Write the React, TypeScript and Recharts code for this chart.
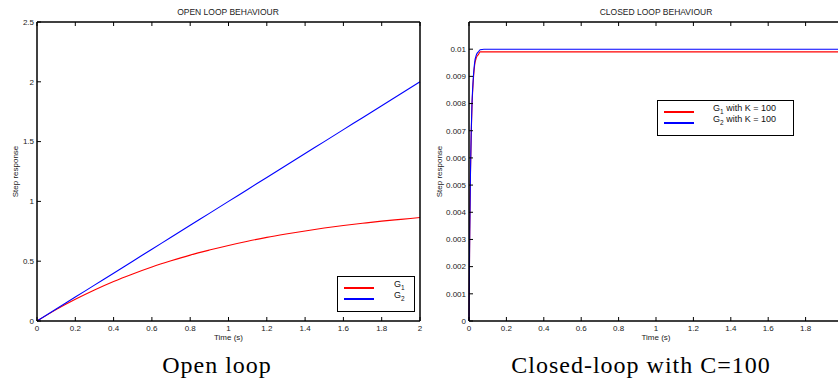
import React from "react";
import { LineChart, Line, XAxis, YAxis, Legend, Label } from "recharts";

// open loop step responses
const OPEN_T = [0, 0.1, 0.2, 0.3, 0.4, 0.5, 0.6, 0.7, 0.8, 0.9, 1, 1.1, 1.2, 1.3, 1.4, 1.5, 1.6, 1.7, 1.8, 1.9, 2];
const OPEN_G1 = [0, 0.095, 0.181, 0.259, 0.33, 0.393, 0.451, 0.503, 0.551, 0.593, 0.632, 0.667, 0.699, 0.727, 0.753, 0.777, 0.798, 0.817, 0.835, 0.85, 0.865];
const OPEN_G2 = [0, 0.1, 0.2, 0.3, 0.4, 0.5, 0.6, 0.7, 0.8, 0.9, 1, 1.1, 1.2, 1.3, 1.4, 1.5, 1.6, 1.7, 1.8, 1.9, 2];

// closed loop, K = 100
const CLOSED_T = [0, 0.004, 0.008, 0.012, 0.016, 0.02, 0.03, 0.04, 0.05, 0.06, 0.08, 0.1, 0.5, 1, 1.5, 2];
const CLOSED_G1 = [0, 0.0033, 0.0055, 0.0069, 0.0079, 0.0085, 0.0094, 0.0097, 0.0098, 0.0099, 0.0099, 0.0099, 0.0099, 0.0099, 0.0099, 0.0099];
const CLOSED_G2 = [0, 0.0033, 0.0055, 0.007, 0.008, 0.0086, 0.0095, 0.0098, 0.0099, 0.00998, 0.01, 0.01, 0.01, 0.01, 0.01, 0.01];

const X_TICKS = [0, 0.2, 0.4, 0.6, 0.8, 1, 1.2, 1.4, 1.6, 1.8, 2];
const OPEN_Y_TICKS = [0, 0.5, 1, 1.5, 2, 2.5];
const CLOSED_Y_TICKS = [0, 0.001, 0.002, 0.003, 0.004, 0.005, 0.006, 0.007, 0.008, 0.009, 0.01];

const OPEN_LABELS = ["", ""];
const CLOSED_LABELS = [" with K = 100", " with K = 100"];
const SUBS = ["1", "2"];
const COLORS = ["#ff0000", "#0000ff"];

const openData = OPEN_T.map((t, i) => ({ t, g1: OPEN_G1[i], g2: OPEN_G2[i] }));
const closedData = CLOSED_T.map((t, i) => ({ t, g1: CLOSED_G1[i], g2: CLOSED_G2[i] }));

const SANS = "'Liberation Sans', Arial, Helvetica, sans-serif";
const SERIF = "'Liberation Serif', 'Times New Roman', serif";
const tickStyle = { fontSize: 8, fill: "#222", fontFamily: SANS };
const axisLine = { stroke: "#000", strokeWidth: 1.5 };
const tickLine = { stroke: "#000", strokeWidth: 1 };

function BoxLegend({ width, textLeft, labels }: { width: number; textLeft: number; labels: string[] }) {
  return (
    <div
      style={{
        width,
        height: 36,
        boxSizing: "border-box",
        border: "1.5px solid #000",
        background: "#fff",
        position: "relative",
        fontFamily: SANS,
        fontSize: 9,
        color: "#111",
      }}
    >
      {SUBS.map((s, i) => (
        <div key={s} style={{ position: "absolute", left: 0, top: 10 + i * 11, width: "100%" }}>
          <div style={{ position: "absolute", left: 6, top: 0, width: 30, height: 1.5, background: COLORS[i] }} />
          <div style={{ position: "absolute", left: textLeft, top: -8, whiteSpace: "nowrap", lineHeight: "10px" }}>
            G<sub style={{ fontSize: 6.5, verticalAlign: -3 }}>{s}</sub>
            {labels[i]}
          </div>
        </div>
      ))}
    </div>
  );
}

function Panel({
  data,
  width,
  yWidth,
  yDomain,
  yTicks,
  labelOffset,
  lastXLabel,
  legend,
}: {
  data: { t: number; g1: number; g2: number }[];
  width: number;
  yWidth: number;
  yDomain: [number, number];
  yTicks: number[];
  labelOffset: number;
  lastXLabel: boolean;
  legend: React.ReactNode;
}) {
  return (
    <LineChart width={width} height={383} data={data} margin={{ top: 21, right: 9, bottom: 61, left: 0 }}>
      <XAxis
        dataKey="t"
        type="number"
        domain={[0, 2]}
        ticks={X_TICKS}
        height={1}
        tick={tickStyle}
        tickFormatter={(v) => (v === 2 && !lastXLabel ? "" : String(v))}
        tickSize={-4}
        tickMargin={8}
        axisLine={axisLine}
        tickLine={tickLine}
        interval={0}
      >
        <Label value="Time (s)" position="bottom" offset={12} style={{ fontSize: 8, fill: "#222", fontFamily: SANS }} />
      </XAxis>
      <XAxis
        xAxisId="top"
        dataKey="t"
        type="number"
        orientation="top"
        domain={[0, 2]}
        ticks={X_TICKS}
        height={1}
        tickFormatter={() => ""}
        tickSize={-4}
        axisLine={axisLine}
        tickLine={tickLine}
        interval={0}
      />
      <YAxis
        type="number"
        domain={yDomain}
        ticks={yTicks}
        width={yWidth}
        tick={tickStyle}
        tickSize={-4}
        tickMargin={7}
        axisLine={axisLine}
        tickLine={tickLine}
        interval={0}
      >
        <Label
          value="Step response"
          angle={-90}
          position="insideLeft"
          offset={labelOffset}
          style={{ fontSize: 8, fill: "#222", fontFamily: SANS, textAnchor: "middle" }}
        />
      </YAxis>
      <YAxis
        yAxisId="right"
        orientation="right"
        type="number"
        domain={yDomain}
        ticks={yTicks}
        width={1}
        tickFormatter={() => ""}
        tickSize={-4}
        axisLine={axisLine}
        tickLine={tickLine}
        interval={0}
      />
      <Line type="monotone" dataKey="g1" stroke={COLORS[0]} strokeWidth={1.1} dot={false} isAnimationActive={false} />
      <Line type="monotone" dataKey="g2" stroke={COLORS[1]} strokeWidth={1.1} dot={false} isAnimationActive={false} />
      {legend}
    </LineChart>
  );
}

export default function App() {
  return (
    <div
      style={{
        position: "fixed",
        left: 0,
        top: 0,
        width: 838,
        height: 383,
        overflow: "hidden",
        background: "#fff",
      }}
    >
      <div style={{ position: "absolute", left: 0, top: 0 }}>
        <Panel
          data={openData}
          width={430}
          yWidth={37}
          yDomain={[0, 2.5]}
          yTicks={OPEN_Y_TICKS}
          labelOffset={15}
          lastXLabel={true}
          legend={
            <Legend
              layout="vertical"
              align="center"
              verticalAlign="middle"
              wrapperStyle={{ left: 337, top: 276, width: 78 }}
              content={() => <BoxLegend width={78} textLeft={56} labels={OPEN_LABELS} />}
            />
          }
        />
      </div>
      <div style={{ position: "absolute", left: 420, top: 0 }}>
        <Panel
          data={closedData}
          width={433}
          yWidth={49}
          yDomain={[0, 0.011]}
          yTicks={CLOSED_Y_TICKS}
          labelOffset={19.5}
          lastXLabel={false}
          legend={
            <Legend
              layout="vertical"
              align="center"
              verticalAlign="middle"
              wrapperStyle={{ left: 237, top: 100, width: 137 }}
              content={() => <BoxLegend width={137} textLeft={55} labels={CLOSED_LABELS} />}
            />
          }
        />
      </div>
      <div style={{ position: "absolute", left: 78, top: 7, width: 300, textAlign: "center", fontFamily: SANS, fontSize: 8.5, lineHeight: "10px", color: "#222" }}>
        OPEN LOOP BEHAVIOUR
      </div>
      <div style={{ position: "absolute", left: 506, top: 7, width: 300, textAlign: "center", fontFamily: SANS, fontSize: 8.5, lineHeight: "10px", color: "#222" }}>
        CLOSED LOOP BEHAVIOUR
      </div>
      <div style={{ position: "absolute", left: 67, top: 353, width: 300, textAlign: "center", fontFamily: SERIF, fontSize: 24, lineHeight: 1, letterSpacing: 1, color: "#000" }}>
        Open loop
      </div>
      <div style={{ position: "absolute", left: 491, top: 353, width: 300, textAlign: "center", fontFamily: SERIF, fontSize: 24, lineHeight: 1, letterSpacing: 1, color: "#000" }}>
        Closed-loop with C=100
      </div>
    </div>
  );
}
